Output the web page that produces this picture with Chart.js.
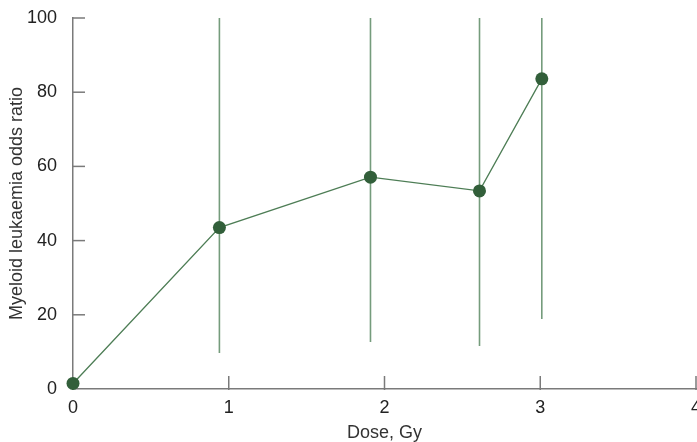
<!DOCTYPE html>
<html lang="en">
<head>
    <meta charset="UTF-8" />
    <title>Myeloid leukaemia odds ratio</title>
    <script src="https://cdn.jsdelivr.net/npm/chart.js"></script>
    <style>
        body { margin: 0; background: #fff; }
        #wrap { width: 697px; height: 442px; }
    </style>
</head>
<body>
    <div id="wrap"><canvas id="chart" width="697" height="442"></canvas></div>
    <script>
        // dose groups (Gy) and odds ratios with confidence limits
        const doses = [0, 0.94, 1.91, 2.61, 3.01]
        const oddsRatio = [1.5, 43.5, 57.1, 53.4, 83.6]
        const ciLow = [null, 9.7, 12.7, 11.6, 18.9]
        const ciHigh = [null, 100, 100, 100, 100]
        const xTicks = [0, 1, 2, 3, 4]
        const yTicks = [0, 20, 40, 60, 80, 100]

        const font = { family: 'Liberation Sans, Arial, sans-serif', size: 18 }

        // error bars + inward tick marks
        const extras = {
            id: 'extras',
            beforeDatasetsDraw(chart) {
                const { ctx, scales: { x, y } } = chart
                ctx.save()
                ctx.strokeStyle = '#759c7c'
                ctx.lineWidth = 1.6
                doses.forEach((d, i) => {
                    if (ciLow[i] == null) return
                    const px = x.getPixelForValue(d)
                    ctx.beginPath()
                    ctx.moveTo(px, y.getPixelForValue(ciLow[i]))
                    ctx.lineTo(px, y.getPixelForValue(ciHigh[i]))
                    ctx.stroke()
                })
                ctx.restore()
            },
            afterDraw(chart) {
                const { ctx, scales: { x, y } } = chart
                ctx.save()
                ctx.strokeStyle = '#7a7a7a'
                ctx.lineWidth = 1.5
                const left = x.getPixelForValue(0)
                const bottom = y.getPixelForValue(0)
                yTicks.forEach(v => {
                    if (v === 0) return
                    const py = y.getPixelForValue(v)
                    ctx.beginPath()
                    ctx.moveTo(left - 1, py)
                    ctx.lineTo(left + 12, py)
                    ctx.stroke()
                })
                xTicks.forEach(v => {
                    if (v === 0) return
                    const px = x.getPixelForValue(v)
                    ctx.beginPath()
                    ctx.moveTo(px, bottom + 1)
                    ctx.lineTo(px, bottom - 13)
                    ctx.stroke()
                })
                ctx.restore()
            }
        }

        new Chart(document.getElementById('chart'), {
            type: 'scatter',
            data: {
                datasets: [{
                    data: doses.map((d, i) => ({ x: d, y: oddsRatio[i] })),
                    showLine: true,
                    borderColor: '#4d7d55',
                    borderWidth: 1.3,
                    pointRadius: 6.5,
                    pointBackgroundColor: '#325f3a',
                    pointBorderColor: '#325f3a',
                    pointBorderWidth: 0
                }]
            },
            options: {
                responsive: false,
                animation: false,
                clip: false,
                layout: { autoPadding: false, padding: { top: 18, right: 1, bottom: 0, left: 0 } },
                plugins: { legend: { display: false }, tooltip: { enabled: false } },
                scales: {
                    x: {
                        type: 'linear', min: 0, max: 4,
                        afterBuildTicks: s => { s.ticks = xTicks.map(v => ({ value: v })) },
                        afterFit: s => { s.height = 53; s.paddingLeft = 0; s.paddingRight = 0 },
                        grid: { display: false },
                        border: { display: true, color: '#7a7a7a', width: 1.5 },
                        ticks: { color: '#222', font, padding: 0 },
                        title: { display: true, text: 'Dose, Gy', color: '#333', font, padding: { top: 2, bottom: -2 } }
                    },
                    y: {
                        min: 0, max: 100,
                        afterBuildTicks: s => { s.ticks = yTicks.map(v => ({ value: v })) },
                        afterFit: s => { s.width = 73; s.paddingTop = 0; s.paddingBottom = 0 },
                        grid: { display: false },
                        border: { display: true, color: '#7a7a7a', width: 1.5 },
                        ticks: { color: '#222', font, padding: 8 },
                        title: { display: true, text: 'Myeloid leukaemia odds ratio', color: '#333', font, padding: { top: 6, bottom: 4 } }
                    }
                }
            },
            plugins: [extras]
        })
    </script>
</body>
</html>
